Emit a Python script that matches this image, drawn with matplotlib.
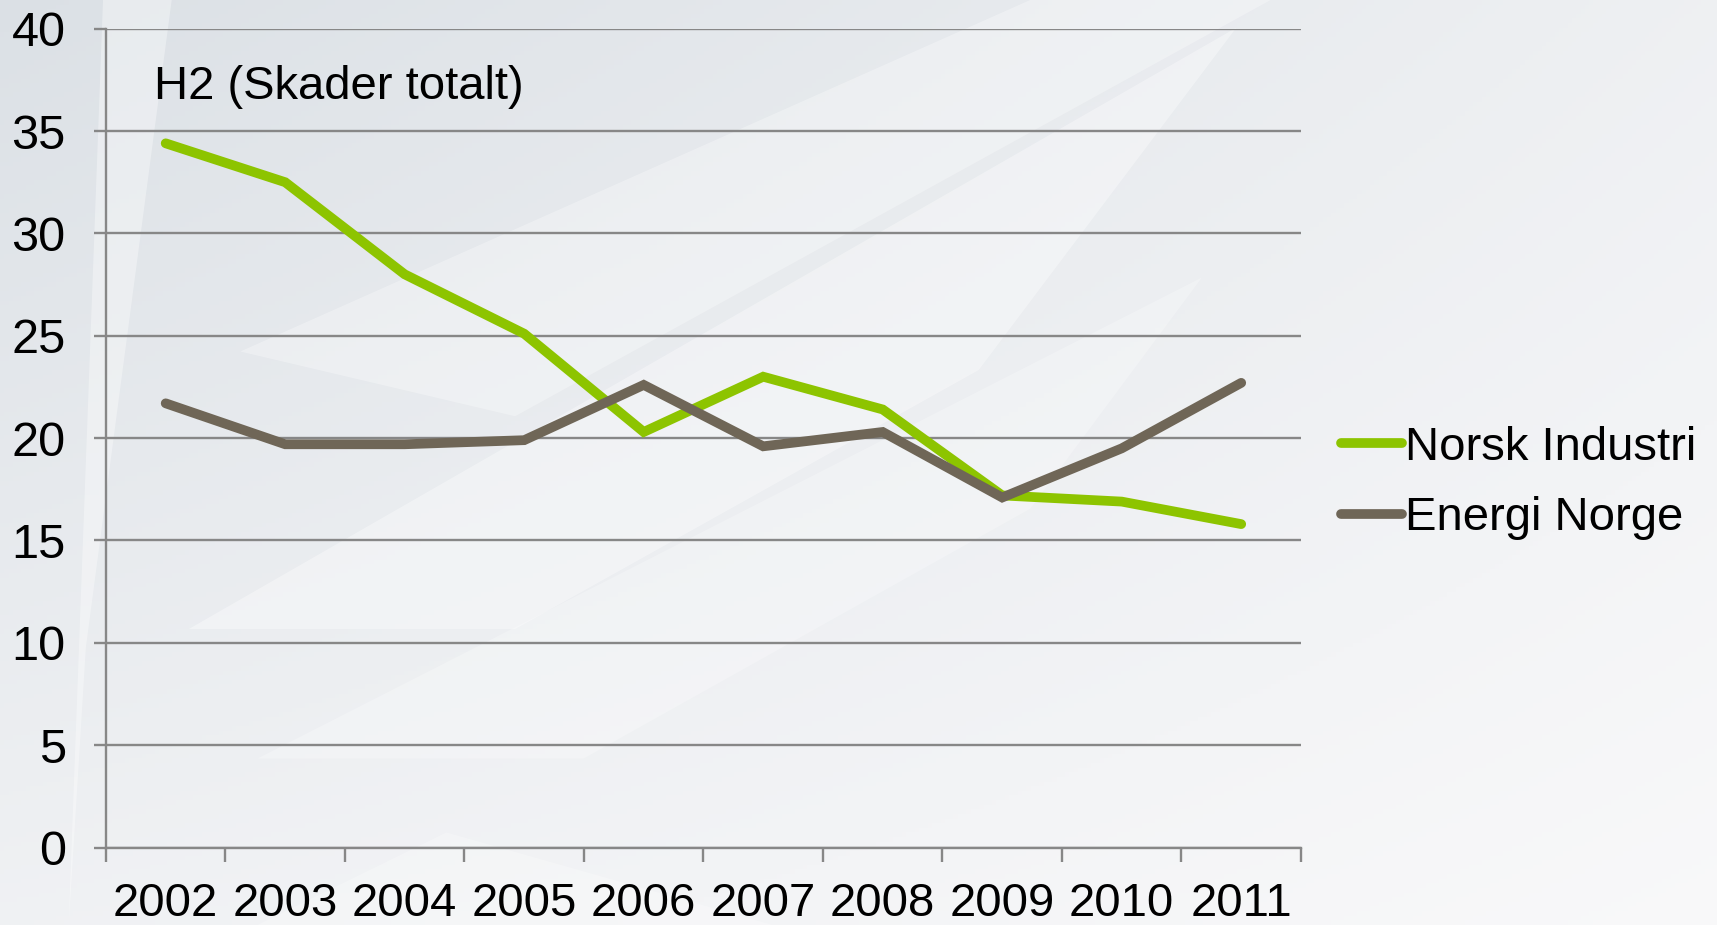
import numpy as np
import matplotlib.pyplot as plt
from matplotlib.patches import Polygon

# --- Données ---
years = ["2002", "2003", "2004", "2005", "2006", "2007", "2008", "2009", "2010", "2011"]
norsk_industri = [34.4, 32.5, 28.0, 25.1, 20.3, 23.0, 21.4, 17.2, 16.9, 15.8]
energi_norge = [21.7, 19.7, 19.7, 19.9, 22.6, 19.6, 20.3, 17.1, 19.5, 22.7]
y_ticks = [0, 5, 10, 15, 20, 25, 30, 35, 40]

plt.rcParams['font.family'] = ['Liberation Sans', 'DejaVu Sans']

fig = plt.figure(figsize=(17.17, 9.25), dpi=100)

# --- Fond dégradé gris clair ---
bg = fig.add_axes([0, 0, 1, 1], zorder=-10)
gx, gy = np.meshgrid(np.linspace(0, 1, 400), np.linspace(0, 1, 200))
shade = 0.3 * (1 - gx) + 0.35 * (1 - gy) + 0.35 * (1 - gx) * (1 - gy)
shade = shade / shade.max()
dark = np.array([0.86, 0.88, 0.90])
light = np.array([0.975, 0.975, 0.98])
img = light[None, None, :] * (1 - shade[..., None]) + dark[None, None, :] * shade[..., None]
bg.imshow(img, extent=[0, 1, 0, 1], aspect='auto', origin='upper')
for pts, a in [
    ([(0.04, 0.0), (0.06, 1.0), (0.10, 1.0), (0.05, 0.3)], 0.35),
    ([(0.14, 0.62), (0.60, 1.0), (0.74, 1.0), (0.30, 0.55)], 0.30),
    ([(0.11, 0.32), (0.72, 0.97), (0.57, 0.60), (0.30, 0.32)], 0.35),
    ([(0.15, 0.18), (0.70, 0.70), (0.60, 0.45), (0.34, 0.18)], 0.25),
    ([(0.15, 0.0), (0.26, 0.10), (0.45, 0.0)], 0.25),
]:
    bg.add_patch(Polygon(pts, closed=True, facecolor='white', edgecolor='none', alpha=a))
bg.set_xlim(0, 1)
bg.set_ylim(0, 1)
bg.axis('off')

# --- Graphique principal ---
ax = fig.add_axes([0.0617, 0.0837, 0.696, 0.8853])
ax.set_facecolor('none')
x = np.arange(len(years))
grid_col = '#878787'

ax.plot(x, norsk_industri, color='#8dc400', lw=7, solid_capstyle='round',
        solid_joinstyle='miter', label='Norsk Industri', zorder=3)
ax.plot(x, energi_norge, color='#6f6657', lw=7, solid_capstyle='round',
        solid_joinstyle='miter', label='Energi Norge', zorder=4)

ax.set_xlim(-0.5, len(years) - 0.5)
ax.set_ylim(0, 40)
ax.set_yticks(y_ticks)
ax.set_yticklabels([str(v) for v in y_ticks])
ax.set_xticks(x)
ax.set_xticklabels(years)
ax.set_xticks(np.arange(-0.5, len(years)), minor=True)

ax.yaxis.grid(True, color=grid_col, lw=1.7)
ax.set_axisbelow(True)
for s in ['top', 'right']:
    ax.spines[s].set_visible(False)
for s in ['left', 'bottom']:
    ax.spines[s].set_color(grid_col)
    ax.spines[s].set_linewidth(1.7)

ax.tick_params(axis='y', length=9, width=1.7, color=grid_col, pad=20, labelsize=35)
ax.tick_params(axis='x', which='major', length=0, pad=25, labelsize=34)
ax.tick_params(axis='x', which='minor', length=10, width=1.7, color=grid_col)

ax.text(0.040, 0.914, "H2 (Skader totalt)", transform=ax.transAxes,
        fontsize=34, ha='left', va='baseline')

ax.legend(loc='center left', bbox_to_anchor=(0.781, 0.478), bbox_transform=fig.transFigure,
          frameon=False, fontsize=34, handlelength=1.3, handletextpad=0.05,
          borderpad=0, borderaxespad=0, labelspacing=0.56)

plt.savefig("out.png", dpi=100)
